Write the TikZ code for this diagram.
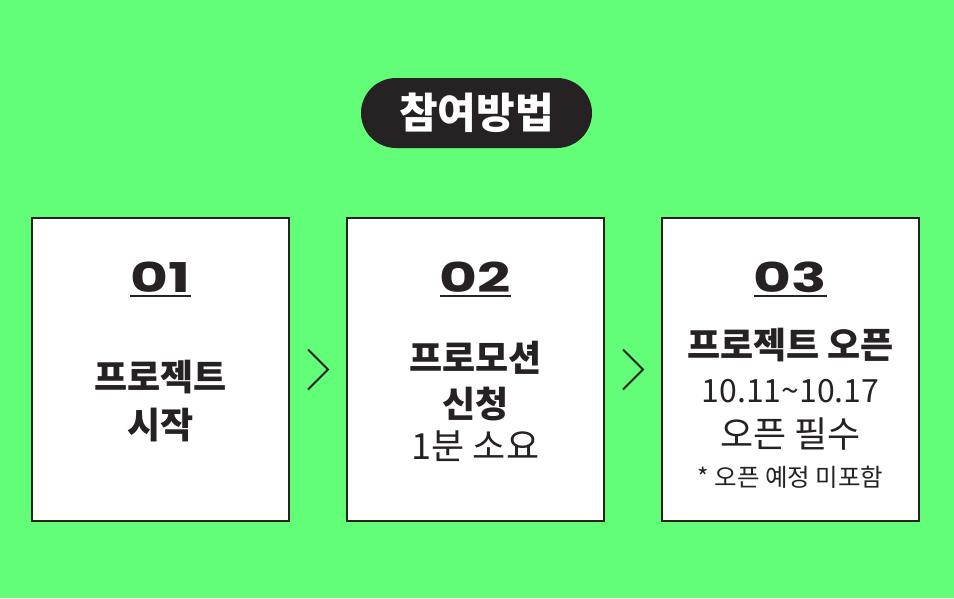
\documentclass[tikz,border=0pt]{standalone}
\usepackage{fontspec}
\usetikzlibrary{calc}
\newfontfamily\kr{Noto Sans CJK KR}
\newfontfamily\pop{Poppins}
\definecolor{bg}{HTML}{62FE77}
\definecolor{ink}{HTML}{262223}
\newcommand{\wide}[1]{\scalebox{1.42}[1]{#1}}
\tikzset{
  stepbox/.style={draw=ink, line width=2pt, fill=white, minimum width=257pt, minimum height=303pt, inner sep=0pt},
  pill/.style={fill=ink, text=white, rounded corners=35pt, minimum width=231pt, minimum height=70pt, inner sep=0pt, font=\kr\bfseries\fontsize{42}{44}\selectfont},
  num/.style={anchor=base, text=ink, inner sep=0pt, font=\pop\bfseries\fontsize{41}{42}\selectfont},
  big/.style={anchor=base, text=ink, inner sep=0pt, font=\kr\bfseries\fontsize{36}{38}\selectfont},
  reg/.style={anchor=base, text=ink, inner sep=0pt, font=\kr\fontsize{36}{38}\selectfont},
  dig/.style={anchor=base, text=ink, inner sep=0pt, font=\kr\fontsize{32}{34}\selectfont},
  small/.style={anchor=base, text=ink, inner sep=0pt, font=\kr\fontsize{24.5}{26}\selectfont},
  chev/.style={draw=ink, line width=1.8pt}
}
\begin{document}
\begin{tikzpicture}[x=1pt,y=-1pt]
\fill[bg] (0,0) rectangle (954,598);
\useasboundingbox (0,0) rectangle (954,598);
\node[pill] (title) at (476.5,113) {참여방법};
\node[stepbox] (b1) at (160.5,369.5) {};
\node[stepbox] (b2) at (475.5,369.5) {};
\node[stepbox] (b3) at (790.5,369.5) {};
% numbers
\node[num] (n1) at (160.5,292) {\wide{01}};
\node[num] (n2) at (475.5,292) {\wide{02}};
\node[num] (n3) at (790.5,292) {\wide{03}};
\foreach \n in {n1,n2,n3}{\draw[ink, line width=2.2pt] ($(\n.base west)+(0,4)$) -- ($(\n.base east)+(0,4)$);}
% box 1
\node[big] (t11) at (160.5,390) {프로젝트};
\node[big] (t12) at (160.5,438) {시작};
% box 2
\node[big] (t21) at (475.5,371) {프로모션};
\node[big] (t22) at (475.5,417) {신청};
\node[reg] (t23) at (475.5,459) {1분 소요};
% box 3
\node[big] (t31) at (790.5,358) {프로젝트 오픈};
\node[dig] (t32) at (790.5,402) {10.11\textasciitilde 10.17};
\node[reg] (t33) at (790.5,447) {오픈 필수};
\node[small] (t34) at (790.5,486) {* 오픈 예정 미포함};
% chevrons
\coordinate (c1) at ($(b1.east)!0.5!(b2.west)$);
\coordinate (c2) at ($(b2.east)!0.5!(b3.west)$);
\foreach \c in {c1,c2}{\draw[chev] ($(\c)+(-10,-20)$) -- ($(\c)+(10,0)$) -- ($(\c)+(-10,20)$);}
\end{tikzpicture}
\end{document}
